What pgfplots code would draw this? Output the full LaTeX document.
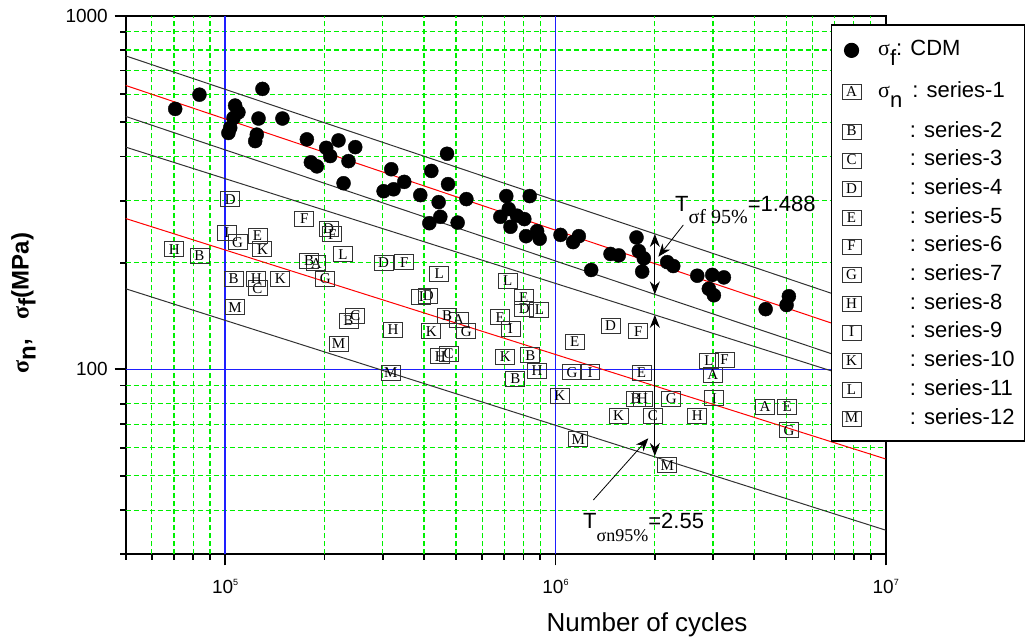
\documentclass[border=0pt]{standalone}
\usepackage{fontspec}
\setmainfont{Liberation Sans}
\newfontfamily\serifL{Liberation Serif}
\usepackage{pgfplots}
\pgfplotsset{compat=1.18}
\usetikzlibrary{arrows.meta}
\definecolor{gridgreen}{RGB}{0,240,0}
\definecolor{gridblue}{RGB}{30,30,255}
\definecolor{fitgray}{RGB}{50,50,50}
\newcommand\lettfont{\fontsize{15}{15}\selectfont\serifL}
\newcommand\tenp[1]{10\raisebox{8pt}{\fontsize{9}{9}\selectfont #1}}
\newcommand\LE[2]{\rule{0pt}{#1}#2}
\pgfplotsset{
  lettermark/.style={only marks, mark=text, text mark={#1}, text mark as node=true,
    text mark style={draw=black!80, line width=0.9pt, minimum width=19pt, minimum height=15pt, inner sep=0pt, anchor=center, font=\lettfont, text=black}},
  limg/.style={legend image code/.code={\draw[##1] plot coordinates {(0pt,#1)};}},
}
\tikzset{mgrid/.style={gridgreen, line width=1.1pt, dash pattern=on 5pt off 3pt}, Mgrid/.style={gridblue, line width=1.5pt}}
\begin{document}
\begin{tikzpicture}
\path[use as bounding box] (-125.7pt,-85.7pt) rectangle (908.3pt,554.3pt);
\begin{axis}[
  at={(0pt,0pt)}, anchor=south west,
  scale only axis, width=760pt, height=538.6pt,
  xmode=log, ymode=log, log basis x=10, log basis y=10,
  xmin=5e4, xmax=1e7, ymin=30, ymax=1000,
  axis line style={line width=2pt, black},
  tick style={line width=1.8pt, black},
  major tick length=11pt, minor tick length=5.7pt,
  tick align=outside, xtick pos=bottom, ytick pos=left,
  xticklabel={\tenp{\ifdim\tick pt<5.5pt 5\else\ifdim\tick pt<6.5pt 6\else 7\fi\fi}},
  yticklabel={\ifdim\tick pt<2.5pt 100\else 1000\fi},
  grid=none,
  tick label style={font=\fontsize{19}{19}\selectfont},
  xticklabel style={anchor=base, yshift=-28.7pt},
  yticklabel style={xshift=-3.4pt},
  xlabel={Number of cycles},
  xlabel style={at={(axis description cs:0.686,0)}, anchor=base, yshift=-77.7pt, font=\fontsize{26}{26}\selectfont},
  ylabel={{\serifL σ}\raisebox{-7pt}{n},\hspace{20pt}{\serifL σ}\raisebox{-7pt}{f}(MPa)},
  ylabel style={at={(axis description cs:-0.1347,0.466)}, anchor=center, font=\fontsize{24}{24}\selectfont\bfseries},
  legend style={at={(axis description cs:0.9276,0.984)}, anchor=north west,
    draw=black, line width=1.2pt, fill=white, inner xsep=10.3pt, inner ysep=14.2pt,
    row sep=0pt, font=\fontsize{22}{22}\selectfont, nodes={inner sep=0pt},
    /tikz/every odd column/.append style={column sep=16.7pt}},
  legend cell align=left,
  limg=-7pt,
]
% grid
\pgfplotsinvokeforeach{6e4,7e4,8e4,9e4,2e5,3e5,4e5,5e5,6e5,7e5,8e5,9e5,2e6,3e6,4e6,5e6,6e6,7e6,8e6,9e6}{
  \draw[mgrid] (axis cs:#1,30) -- (axis cs:#1,1000);}
\pgfplotsinvokeforeach{40,50,60,70,80,90,200,300,400,500,600,700,800,900}{
  \draw[mgrid] (axis cs:5e4,#1) -- (axis cs:1e7,#1);}
\draw[Mgrid] (axis cs:1e5,30) -- (axis cs:1e5,1000);
\draw[Mgrid] (axis cs:1e6,30) -- (axis cs:1e6,1000);
\draw[Mgrid] (axis cs:5e4,100) -- (axis cs:1e7,100);
% fit lines
\addplot[forget plot, fitgray, line width=1pt] coordinates {(5e4,770) (1e7,145.7)};
\addplot[forget plot, red, line width=1pt] coordinates {(5e4,635) (1e7,120)};
\addplot[forget plot, fitgray, line width=1pt] coordinates {(5e4,519) (1e7,98.3)};
\addplot[forget plot, fitgray, line width=1pt] coordinates {(5e4,425) (1e7,88.5)};
\addplot[forget plot, red, line width=1pt] coordinates {(5e4,267) (1e7,55.8)};
\addplot[forget plot, fitgray, line width=1pt] coordinates {(5e4,169) (1e7,35.1)};
% CDM
\addplot[only marks, mark=*, mark size=7pt, black, limg=-2.25pt] coordinates {
(7.06e4,545) (8.36e4,598) (1.297e5,621) (1.072e5,557) (1.097e5,533) (1.06e5,514) (1.036e5,482) (1.023e5,466)
(1.262e5,512) (1.491e5,512) (1.247e5,461) (1.233e5,442) (1.768e5,447) (2.023e5,423) (2.204e5,444) (2.477e5,425)
(2.08e5,401) (1.818e5,385) (1.896e5,375) (2.363e5,388) (2.283e5,336) (3.184e5,368) (3.018e5,319) (3.236e5,323)
(3.486e5,339) (4.697e5,407) (4.21e5,364) (4.73e5,334) (3.898e5,311) (4.43e5,297) (5.375e5,303) (4.482e5,270)
(4.152e5,259) (5.057e5,260) (7.1e5,309) (8.36e5,309) (7.22e5,284) (6.81e5,270) (7.65e5,272) (8.05e5,266)
(7.31e5,253) (8.8e5,246) (8.15e5,238) (8.96e5,234) (1.036e6,240) (1.177e6,238) (1.131e6,229) (1.283e6,191)
(1.468e6,212) (1.555e6,210) (1.76e6,236) (1.788e6,216) (1.852e6,206) (1.831e6,189) (2.18e6,201) (2.274e6,196)
(2.688e6,184) (2.984e6,185) (3.236e6,182) (2.914e6,169) (3.018e6,162) (4.33e6,148) (5.09e6,161) (5.01e6,152)};
\addlegendentry{\LE{16.5pt}{{\serifL σ}\smash{\raisebox{-10pt}{f}}: CDM}}
\addplot[lettermark=A, limg=-14.1pt] coordinates {(1.887e5,199.8) (5.093e5,138.3) (2.997e6,96.6) (4.308e6,78.4)};
\addlegendentry{\LE{40.2pt}{{\serifL σ}\smash{\raisebox{-10pt}{n}}\hspace{10pt}: series-1}}
\addplot[lettermark=B, limg=-12.4pt] coordinates {(8.36e4,209.5) (1.06e5,180.1) (1.797e5,202.4) (2.363e5,137.4) (4.697e5,141.9) (8.4e5,109.5) (7.56e5,94.2) (1.748e6,82.7)};
\addlegendentry{\LE{36.8pt}{\hspace{31.6pt}: series-2}}
\addplot[lettermark=C] coordinates {(1.253e5,169.6) (2.477e5,141.6) (4.75e5,110.7) (1.972e6,73.8)};
\addlegendentry{\LE{26pt}{\hspace{31.6pt}: series-3}}
\addplot[lettermark=D] coordinates {(1.036e5,302.6) (2.056e5,250.2) (3.018e5,199.8) (4.123e5,161.3) (8.05e5,148.3) (1.468e6,133.0)};
\addlegendentry{\LE{26pt}{\hspace{31.6pt}: series-4}}
\addplot[lettermark=E] coordinates {(1.253e5,238.5) (8.01e5,160.0) (6.81e5,140.4) (1.144e6,119.9) (1.822e6,97.9) (5.036e6,78.4)};
\addlegendentry{\LE{26pt}{\hspace{31.6pt}: series-5}}
\addplot[lettermark=F] coordinates {(1.735e5,267.0) (2.11e5,241.2) (3.486e5,200.7) (1.781e6,128.1) (3.252e6,106.5)};
\addlegendentry{\LE{26pt}{\hspace{31.6pt}: series-6}}
\addplot[lettermark=G] coordinates {(1.09e5,228.5) (2.009e5,180.1) (5.375e5,128.1) (1.123e6,98.1) (2.242e6,82.7) (5.093e6,67.3)};
\addlegendentry{\LE{26pt}{\hspace{31.6pt}: series-7}}
\addplot[lettermark=H] coordinates {(7.01e4,218.8) (1.242e5,180.1) (3.223e5,129.4) (4.482e5,108.8) (8.8e5,99.2) (1.835e6,82.7) (2.688e6,73.8)};
\addlegendentry{\LE{26pt}{\hspace{31.6pt}: series-8}}
\addplot[lettermark=I] coordinates {(1.012e5,243.8) (3.926e5,160.3) (7.31e5,130.2) (1.274e6,98.1) (3.026e6,82.9)};
\addlegendentry{\LE{26pt}{\hspace{31.6pt}: series-9}}
\addplot[lettermark=K] coordinates {(1.297e5,218.8) (1.468e5,180.1) (4.21e5,128.1) (7.055e5,108.4) (1.03e6,84.1) (1.552e6,73.8)};
\addlegendentry{\LE{26pt}{\hspace{31.6pt}: series-10\hspace{20pt}}}
\addplot[lettermark=L] coordinates {(2.274e5,211.8) (4.45e5,186.0) (7.17e5,178.1) (8.94e5,147.3) (2.914e6,105.8)};
\addlegendentry{\LE{26pt}{\hspace{31.6pt}: series-11}}
\addplot[lettermark=M] coordinates {(1.072e5,149.7) (2.204e5,118.1) (3.174e5,97.9) (1.172e6,63.4) (2.18e6,53.6)};
\addlegendentry{\LE{26pt}{\hspace{31.6pt}: series-12}}
% scatter band arrows
\draw[line width=1pt, {Stealth[length=13pt,width=10pt]}-{Stealth[length=13pt,width=10pt]}] (axis cs:2e6,241.5) -- (axis cs:2e6,162.9);
\draw[line width=1pt, {Stealth[length=13pt,width=10pt]}-{Stealth[length=13pt,width=10pt]}] (axis cs:2e6,142.6) -- (axis cs:2e6,56.9);
\draw[line width=0.8pt, -{Stealth[length=13pt,width=10pt]}] (axis description cs:0.7337,0.6114) -- (axis description cs:0.7008,0.5525);
\draw[line width=0.8pt, -{Stealth[length=13pt,width=10pt]}] (axis description cs:0.6153,0.1008) -- (axis description cs:0.6876,0.2154);
\node[anchor=base west, inner sep=0pt, font=\fontsize{22}{22}\selectfont] at (axis description cs:0.7228,0.6361)
  {T\raisebox{-11.6pt}{\serifL\fontsize{20}{20}\selectfont σf 95\%}=1.488};
\node[anchor=base west, inner sep=0pt, font=\fontsize{22}{22}\selectfont] at (axis description cs:0.6017,0.0479)
  {T\raisebox{-13.5pt}{\serifL\fontsize{18}{18}\selectfont σn95\%}=2.55};
\end{axis}
\end{tikzpicture}
\end{document}
